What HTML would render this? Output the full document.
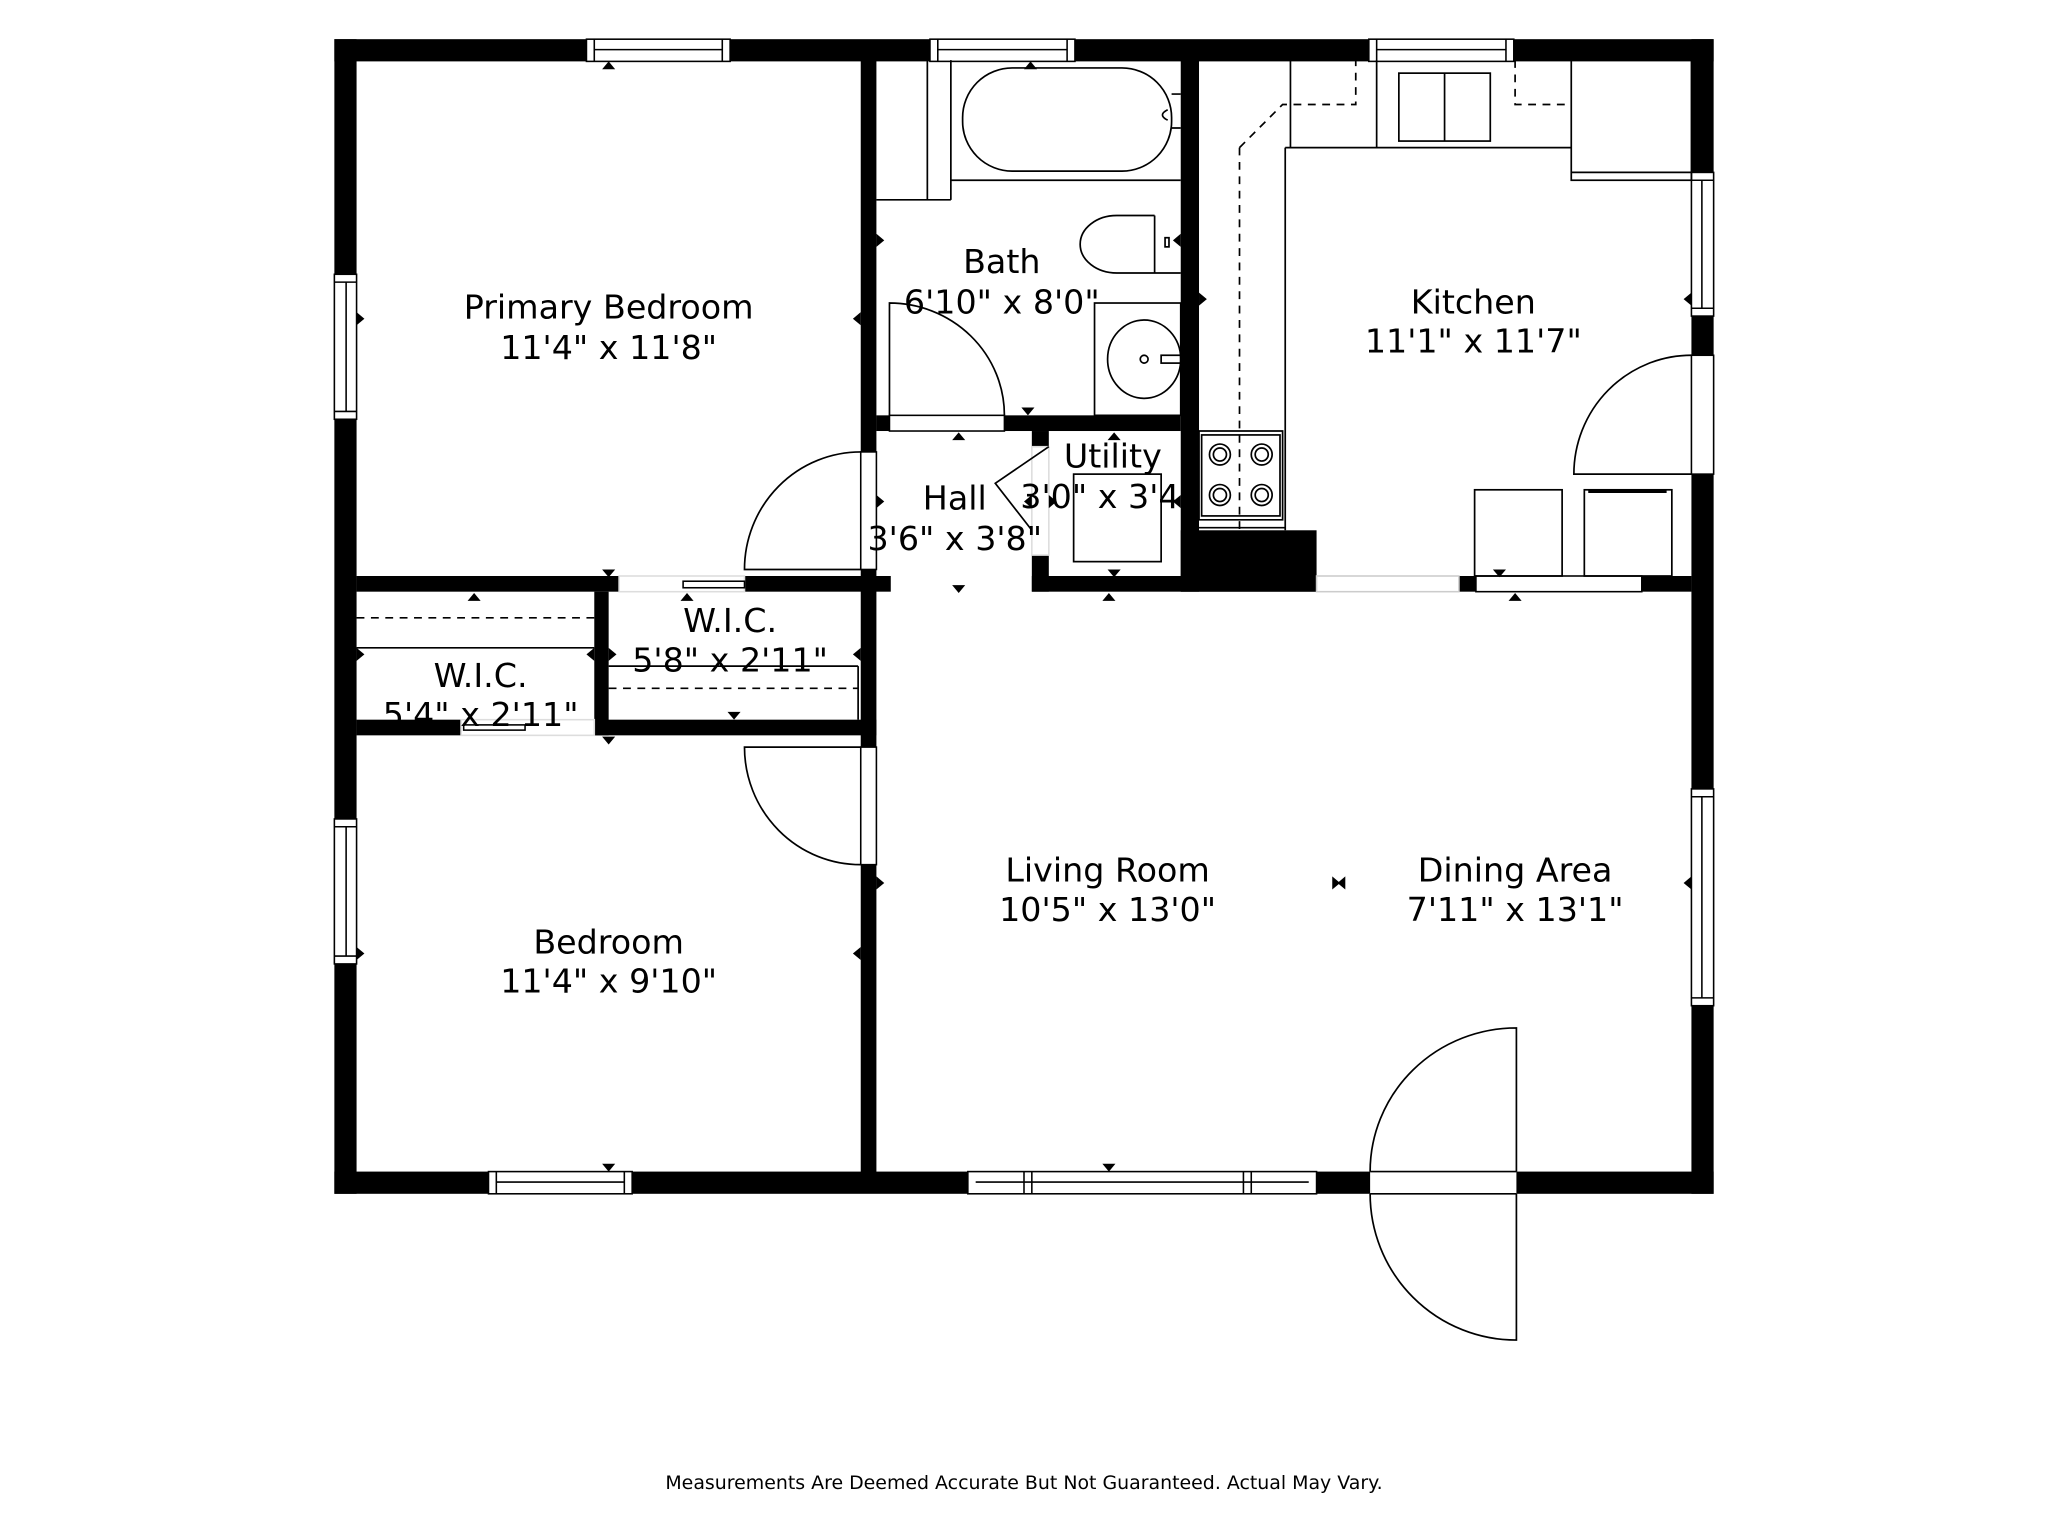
<!DOCTYPE html>
<html><head><style>html,body{margin:0;padding:0;background:#fff;}svg{display:block}</style></head>
<body>
<svg width="2048" height="1536" viewBox="0 0 1568 1176" xmlns="http://www.w3.org/2000/svg" font-family="'DejaVu Sans','Liberation Sans',sans-serif">
<rect width="1568" height="1176" fill="#fff"/>
<g fill="#000">
<rect x="256" y="30" width="1056" height="17"/>
<rect x="256" y="897" width="1056" height="17"/>
<rect x="256" y="30" width="17" height="884"/>
<rect x="1295" y="30" width="17" height="884"/>
<rect x="659" y="46" width="12" height="852"/>
<rect x="904" y="46" width="14" height="407"/>
<rect x="671" y="318" width="233" height="12"/>
<rect x="790" y="330" width="13" height="12"/>
<rect x="790" y="425" width="13" height="28"/>
<rect x="790" y="441" width="218" height="12"/>
<rect x="904" y="406" width="104" height="47"/>
<rect x="1117" y="441" width="178" height="12"/>
<rect x="273" y="441" width="202" height="12"/>
<rect x="570" y="441" width="112" height="12"/>
<rect x="455" y="453" width="11" height="110"/>
<rect x="273" y="551" width="80" height="12"/>
<rect x="430" y="551" width="241" height="12"/>
</g>
<g fill="#fff" stroke="#000" stroke-width="1.2">
<rect x="449" y="30" width="110" height="17"/><line x1="455" y1="38" x2="553" y2="38"/><line x1="455" y1="30" x2="455" y2="47"/><line x1="553" y1="30" x2="553" y2="47"/>
<rect x="712" y="30" width="111" height="17"/><line x1="718" y1="38" x2="817" y2="38"/><line x1="718" y1="30" x2="718" y2="47"/><line x1="817" y1="30" x2="817" y2="47"/>
<rect x="1048" y="30" width="111" height="17"/><line x1="1054" y1="38" x2="1153" y2="38"/><line x1="1054" y1="30" x2="1054" y2="47"/><line x1="1153" y1="30" x2="1153" y2="47"/>
<rect x="374" y="897" width="110" height="17"/><line x1="380" y1="905" x2="478" y2="905"/><line x1="380" y1="897" x2="380" y2="914"/><line x1="478" y1="897" x2="478" y2="914"/>
<rect x="741" y="897" width="267" height="17"/><line x1="747" y1="905" x2="1002" y2="905"/><line x1="784" y1="897" x2="784" y2="914"/><line x1="790" y1="897" x2="790" y2="914"/><line x1="952" y1="897" x2="952" y2="914"/><line x1="958" y1="897" x2="958" y2="914"/>
<rect x="256" y="210" width="17" height="111"/><line x1="265" y1="216" x2="265" y2="315"/><line x1="256" y1="216" x2="273" y2="216"/><line x1="256" y1="315" x2="273" y2="315"/>
<rect x="256" y="627" width="17" height="111"/><line x1="265" y1="633" x2="265" y2="732"/><line x1="256" y1="633" x2="273" y2="633"/><line x1="256" y1="732" x2="273" y2="732"/>
<rect x="1295" y="132" width="17" height="110"/><line x1="1303" y1="138" x2="1303" y2="236"/><line x1="1295" y1="138" x2="1312" y2="138"/><line x1="1295" y1="236" x2="1312" y2="236"/>
<rect x="1295" y="604" width="17" height="166"/><line x1="1303" y1="610" x2="1303" y2="764"/><line x1="1295" y1="610" x2="1312" y2="610"/><line x1="1295" y1="764" x2="1312" y2="764"/>
<rect x="1295" y="272" width="17" height="91"/>
<rect x="659" y="346" width="12" height="90"/>
<rect x="659" y="572" width="12" height="90"/>
<rect x="681" y="318" width="88" height="12"/>
<rect x="1130" y="441" width="127" height="12"/>
<rect x="1008" y="441" width="109" height="12" stroke="#ccc"/>
<rect x="474" y="441" width="96" height="12" stroke="#ddd"/>
<rect x="523" y="445" width="47" height="5"/>
<rect x="353" y="551" width="102" height="12" stroke="#ddd"/>
<rect x="355" y="555" width="47" height="4"/>
<rect x="1049" y="897" width="112" height="17" stroke="none"/>
<line x1="1049" y1="897" x2="1161" y2="897"/><line x1="1049" y1="914" x2="1161" y2="914"/>
<rect x="790" y="342" width="13" height="83" stroke="#ddd"/>
</g>
<g fill="none" stroke="#000" stroke-width="1.3">
<path d="M659 346 A89 90 0 0 0 570 436 L659 436"/>
<path d="M659 572 L570 572 A89 90 0 0 0 659 662"/>
<path d="M681 318 L681 232 A88 86 0 0 1 769 318"/>
<path d="M1295 272 A90 91 0 0 0 1205 363 L1295 363"/>
<path d="M1161 897 L1161 787 A112 110 0 0 0 1049 897"/>
<path d="M1161 914 L1161 1026 A112 112 0 0 1 1049 914"/>
<path d="M803 342 L762 370 L790 406"/>
<line x1="710" y1="46" x2="710" y2="153"/><line x1="728" y1="46" x2="728" y2="153"/>
<line x1="671" y1="153" x2="728" y2="153"/><line x1="728" y1="138" x2="904" y2="138"/>
<rect x="737" y="52" width="160" height="79" rx="38"/>
<path d="M884 165 L855 165 A28 22 0 0 0 855 209 L904 209"/><line x1="884" y1="165" x2="884" y2="209"/>
<rect x="892" y="182" width="3" height="7"/>
<rect x="838" y="232" width="66" height="86"/>
<ellipse cx="876" cy="275" rx="28" ry="30"/><circle cx="876" cy="275" r="3"/>
<rect x="889" y="272" width="15" height="6"/>
<path d="M897 72 L904 72 M897 98 L904 98"/><path d="M894 84 Q886 88 894 92"/>
<rect x="822" y="363" width="67" height="67"/>
<line x1="273" y1="496" x2="455" y2="496"/>
<line x1="466" y1="510" x2="657" y2="510"/><line x1="657" y1="510" x2="657" y2="551"/>
<path d="M273 473 H455 M466 527 H657" stroke-dasharray="6 5"/>
<path d="M918 330 H982 V398 H918 Z"/><rect x="920" y="333" width="60" height="62"/>
<circle cx="934" cy="348" r="8"/><circle cx="934" cy="348" r="5"/>
<circle cx="966" cy="348" r="8"/><circle cx="966" cy="348" r="5"/>
<circle cx="934" cy="379" r="8"/><circle cx="934" cy="379" r="5"/>
<circle cx="966" cy="379" r="8"/><circle cx="966" cy="379" r="5"/>
<line x1="984" y1="113" x2="984" y2="406"/>
<line x1="918" y1="404" x2="984" y2="404"/>
<line x1="984" y1="113" x2="1203" y2="113"/>
<line x1="988" y1="46" x2="988" y2="113"/><line x1="1054" y1="46" x2="1054" y2="113"/>
<rect x="1071" y="56" width="70" height="52"/><line x1="1106" y1="56" x2="1106" y2="108"/>
<rect x="1203" y="46" width="92" height="92"/><line x1="1203" y1="132" x2="1295" y2="132"/>
<path d="M949 113 L982 80 L1038 80 L1038 46 M949 113 V406 M1160 46 V80 H1200" stroke-dasharray="6 5"/>
<rect x="1129" y="375" width="67" height="66"/><rect x="1213" y="375" width="67" height="66"/>
<line x1="1216" y1="376" x2="1276" y2="376" stroke-width="3"/>
</g>
<defs>
<symbol id="u" overflow="visible"><path d="M-5 0 h10 l-5 -6z"/></symbol>
<symbol id="d" overflow="visible"><path d="M-5 0 h10 l-5 6z"/></symbol>
<symbol id="r" overflow="visible"><path d="M0 -5 v10 l6 -5z"/></symbol>
<symbol id="l" overflow="visible"><path d="M0 -5 v10 l-6 -5z"/></symbol>
</defs>
<g fill="#000">
<use href="#u" x="466" y="53"/><use href="#u" x="789" y="53"/><use href="#d" x="466" y="891"/><use href="#d" x="849" y="891"/>
<use href="#d" x="466" y="436"/><use href="#u" x="734" y="337"/><use href="#u" x="853" y="337"/><use href="#d" x="853" y="436"/>
<use href="#d" x="734" y="448"/><use href="#u" x="363" y="460"/><use href="#d" x="562" y="545"/><use href="#d" x="466" y="564"/>
<use href="#u" x="526" y="460"/><use href="#u" x="849" y="460"/><use href="#d" x="1148" y="436"/><use href="#u" x="1160" y="460"/><use href="#d" x="787" y="312"/>
<use href="#r" x="273" y="244"/><use href="#l" x="659" y="244"/><use href="#r" x="273" y="730"/><use href="#l" x="659" y="730"/>
<use href="#r" x="671" y="184"/><use href="#l" x="904" y="184"/><use href="#r" x="918" y="229"/><use href="#l" x="1295" y="229"/>
<use href="#r" x="671" y="384"/><use href="#l" x="790" y="384"/><use href="#r" x="803" y="384"/><use href="#l" x="904" y="384"/>
<use href="#r" x="671" y="676"/><use href="#l" x="1295" y="676"/><use href="#r" x="1020" y="676"/><use href="#l" x="1030" y="676"/>
<use href="#r" x="273" y="501"/><use href="#l" x="455" y="501"/><use href="#r" x="466" y="501"/><use href="#l" x="659" y="501"/>
</g>
<g font-size="25.5" text-anchor="middle" fill="#000">
<text x="466" y="244">Primary Bedroom</text><text x="466" y="275">11'4" x 11'8"</text>
<text x="767" y="209">Bath</text><text x="767" y="240">6'10" x 8'0"</text>
<text x="1128" y="240">Kitchen</text><text x="1128" y="270">11'1" x 11'7"</text>
<text x="731" y="390">Hall</text><text x="731" y="421">3'6" x 3'8"</text>
<text x="852" y="358">Utility</text><text x="848" y="389">3'0" x 3'4"</text>
<text x="559" y="484">W.I.C.</text><text x="559" y="514">5'8" x 2'11"</text>
<text x="368" y="526">W.I.C.</text><text x="368" y="556">5'4" x 2'11"</text>
<text x="848" y="675">Living Room</text><text x="848" y="705">10'5" x 13'0"</text>
<text x="1160" y="675">Dining Area</text><text x="1160" y="705">7'11" x 13'1"</text>
<text x="466" y="730">Bedroom</text><text x="466" y="760">11'4" x 9'10"</text>
<text x="784" y="1140" font-size="14.5">Measurements Are Deemed Accurate But Not Guaranteed. Actual May Vary.</text>
</g>
</svg>
</body></html>
